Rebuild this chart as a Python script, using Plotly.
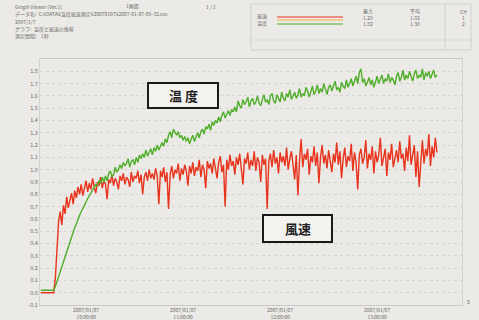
import datetime as dt
import plotly.graph_objects as go

# Sampling: one reading per minute, starting 09:32
START = dt.datetime(2007, 1, 7, 9, 32)

# 温度 (green trace)
temp = [
    0.02, 0.02, 0.02, 0.02, 0.02, 0.02, 0.02, 0.02, 0.02, 0.05,
    0.09, 0.13, 0.18, 0.22, 0.26, 0.30, 0.34, 0.38, 0.42, 0.46,
    0.49, 0.53, 0.56, 0.60, 0.63, 0.66, 0.68, 0.71, 0.74, 0.77,
    0.79, 0.81, 0.84, 0.85, 0.88, 0.87, 0.91, 0.89, 0.94, 0.90,
    0.95, 0.91, 0.97, 0.99, 0.94, 0.96, 1.02, 0.98, 1.00, 1.04,
    1.01, 1.06, 1.03, 1.05, 1.09, 1.02, 1.07, 1.08, 1.04, 1.10,
    1.06, 1.12, 1.09, 1.13, 1.10, 1.16, 1.11, 1.14, 1.17, 1.12,
    1.18, 1.15, 1.20, 1.16, 1.19, 1.22, 1.19, 1.25, 1.22, 1.28,
    1.31, 1.26, 1.33, 1.30, 1.28, 1.31, 1.26, 1.28, 1.24, 1.27,
    1.23, 1.26, 1.21, 1.25, 1.28, 1.23, 1.27, 1.30, 1.26, 1.31,
    1.33, 1.29, 1.35, 1.33, 1.37, 1.32, 1.39, 1.36, 1.40, 1.38,
    1.43, 1.39, 1.44, 1.47, 1.42, 1.45, 1.48, 1.44, 1.49, 1.47,
    1.51, 1.47, 1.56, 1.52, 1.50, 1.57, 1.53, 1.55, 1.59, 1.51,
    1.56, 1.58, 1.53, 1.55, 1.60, 1.54, 1.52, 1.57, 1.61, 1.55,
    1.57, 1.53, 1.60, 1.62, 1.56, 1.54, 1.61, 1.58, 1.55, 1.63,
    1.58, 1.56, 1.62, 1.59, 1.65, 1.57, 1.60, 1.63, 1.58, 1.61,
    1.66, 1.59, 1.62, 1.60, 1.67, 1.64, 1.59, 1.63, 1.68, 1.61,
    1.64, 1.69, 1.62, 1.66, 1.63, 1.70, 1.65, 1.61, 1.67, 1.69,
    1.64, 1.68, 1.72, 1.65, 1.67, 1.63, 1.71, 1.68, 1.66, 1.73,
    1.67, 1.70, 1.74, 1.68, 1.72, 1.76, 1.70, 1.79, 1.82, 1.71,
    1.74, 1.68, 1.71, 1.75, 1.69, 1.73, 1.67, 1.72, 1.76, 1.70,
    1.73, 1.77, 1.70, 1.74, 1.72, 1.78, 1.71, 1.75, 1.73, 1.69,
    1.76, 1.79, 1.72, 1.75, 1.81, 1.73, 1.77, 1.74, 1.80, 1.76,
    1.72, 1.78, 1.81, 1.74, 1.77, 1.75, 1.82, 1.73, 1.79, 1.76,
    1.80, 1.74, 1.78, 1.81, 1.75, 1.77,
]

# 風速 (red trace)
wind = [
    0.00, 0.00, 0.00, 0.00, 0.00, 0.00, 0.00, 0.00, 0.00, 0.12,
    0.34, 0.58, 0.66, 0.55, 0.71, 0.64, 0.78, 0.69, 0.75, 0.81,
    0.72, 0.83, 0.77, 0.86, 0.80, 0.88, 0.79, 0.85, 0.91, 0.82,
    0.89, 0.84, 0.93, 0.86, 0.81, 0.90, 0.87, 0.94, 0.85, 0.91,
    0.88, 0.76, 0.92, 0.89, 0.96, 0.87, 0.93, 0.90, 0.84, 0.95,
    0.91, 0.97, 0.88, 0.94, 0.92, 0.86, 0.98, 0.90, 0.95, 0.93,
    0.99, 0.89, 0.96, 0.80, 0.94, 0.98, 0.91, 1.00, 0.93, 0.97,
    0.92, 1.01, 0.95, 0.72, 0.99, 0.94, 1.02, 0.90, 0.98, 0.68,
    0.96, 1.03, 0.93, 1.00, 0.97, 1.05, 0.91, 1.01, 0.96, 1.04,
    0.99, 0.87, 1.03, 0.97, 1.06, 0.95, 1.02, 0.99, 1.08, 0.94,
    1.04, 1.00, 0.85, 1.07, 1.01, 1.05, 0.97, 1.09, 1.02, 0.93,
    1.06, 1.11, 0.98, 1.04, 0.70, 1.08, 1.00, 1.12, 1.03, 1.07,
    0.96, 1.10, 1.04, 1.13, 1.01, 0.88, 1.09, 1.05, 1.14, 1.00,
    1.08, 1.03, 1.15, 0.99, 1.10, 1.06, 0.90, 1.12, 1.04, 1.09,
    0.68, 1.07, 1.13, 1.02, 1.16, 1.05, 1.10, 0.97, 1.14, 1.06,
    1.11, 1.03, 1.18, 1.00, 1.09, 1.15, 1.04, 0.92, 1.12, 0.79,
    1.07, 1.25, 1.02, 1.13, 1.08, 1.17, 0.96, 1.11, 1.06, 1.19,
    1.03, 1.14, 0.89, 1.10, 1.20, 1.05, 1.12, 1.01, 1.16, 1.08,
    0.98, 1.13, 1.06, 1.22, 1.04, 1.15, 0.93, 1.09, 1.18, 1.02,
    1.11, 1.07, 1.21, 0.99, 1.14, 1.06, 0.84, 1.12, 1.17, 1.05,
    1.10, 1.24, 1.01, 1.13, 1.08, 1.19, 0.97, 1.15, 1.06, 1.12,
    1.26, 1.03, 1.10, 1.17, 0.95, 1.14, 1.08, 1.21, 1.02, 1.11,
    1.16, 1.06, 1.23, 1.09, 1.13, 0.99, 1.18, 1.07, 1.28, 1.04,
    1.12, 1.20, 0.94, 1.15, 0.86, 1.09, 1.24, 1.05, 1.17, 1.11,
    1.29, 1.03, 1.19, 1.10, 1.26, 1.14,
]

times = [START + dt.timedelta(minutes=i) for i in range(len(temp))]

# Axis ticks
y_ticks = [round(-0.1 + 0.1 * i, 1) for i in range(20)]
x_tick_times = [dt.datetime(2007, 1, 7, h, 0) for h in (10, 11, 12, 13)]
x_tick_text = [t.strftime("%Y/%m/%d") + "<br>" + t.strftime("%H:%M:%S") for t in x_tick_times]

# Header contents
header_lines = [
    "Graph Viewer (Ver.1)",
    "データ名:  C:¥DATA¥温度風速測定¥20070107¥2007-01-07-09-32.csv",
    "2007/1/7",
    "グラフ:  温度と風速の推移",
    "測定間隔:    1秒",
]
legend_names = ["風速", "温度"]
stat_cols = [["最大", "1.29", "1.82"], ["平均", "1.02", "1.38"], ["CH", "1", "2"]]

BG = "#eceae6"
RED = "#e8331d"
GREEN = "#4fae2b"
INK = "#6a6a6a"
FONT = "Noto Sans CJK JP"

fig = go.Figure()
fig.add_trace(go.Scatter(x=times, y=wind, mode="lines", name="風速",
                         line=dict(color=RED, width=1.4)))
fig.add_trace(go.Scatter(x=times, y=temp, mode="lines", name="温度",
                         line=dict(color=GREEN, width=1.4)))

W, H = 479, 320
L, R, T, B = 40, 17, 59, 15
pw, ph = W - L - R, H - T - B


def px(x):
    return (x - L) / pw


def py(y):
    return (H - B - y) / ph


shapes = []
annotations = []


def small_text(x, y, text, anchor="left", size=5):
    annotations.append(dict(xref="paper", yref="paper", x=px(x), y=py(y), text=text,
                            showarrow=False, xanchor=anchor, yanchor="middle", borderpad=0,
                            font=dict(size=size, color=INK, family=FONT)))


# header frame on the right
shapes.append(dict(type="rect", xref="paper", yref="paper",
                   x0=px(251), x1=px(471), y0=py(50), y1=py(4),
                   line=dict(color="#cfcfcc", width=1)))
shapes.append(dict(type="line", xref="paper", yref="paper",
                   x0=px(445), x1=px(445), y0=py(50), y1=py(4),
                   line=dict(color="#cfcfcc", width=1)))
shapes.append(dict(type="line", xref="paper", yref="paper",
                   x0=px(251), x1=px(471), y0=py(40), y1=py(40),
                   line=dict(color="#d8d8d5", width=1)))

# header text on the left
for i, line in enumerate(header_lines):
    small_text(14, 7 + 7.3 * i, line)
small_text(125, 6, "1画面")
small_text(205, 6, "1 / 1")

# legend rows: name + colour sample
for i, (name, col) in enumerate(zip(legend_names, [RED, GREEN])):
    yy = 16 + 7 * i
    small_text(256, yy, name)
    shapes.append(dict(type="line", xref="paper", yref="paper",
                       x0=px(277), x1=px(343), y0=py(yy + 1), y1=py(yy + 1),
                       line=dict(color=col, width=1.2)))
shapes.append(dict(type="line", xref="paper", yref="paper",
                   x0=px(277), x1=px(343), y0=py(20), y1=py(20),
                   line=dict(color="#f0b040", width=1)))

# statistics columns
for cx, col in zip([368, 415, 463], stat_cols):
    for j, txt in enumerate(col):
        small_text(cx, 11 + 6.5 * j, txt, anchor="center")

# boxed series labels
for (x0, x1, y0, y1, label) in [(148, 218, 83, 108, "温 度"), (263, 332, 215, 242, "風速")]:
    shapes.append(dict(type="rect", xref="paper", yref="paper",
                       x0=px(x0), x1=px(x1), y0=py(y1), y1=py(y0),
                       fillcolor="#f3f2ef", line=dict(color="#1a1a1a", width=2)))
    annotations.append(dict(xref="paper", yref="paper", x=px((x0 + x1) / 2), y=py((y0 + y1) / 2),
                            text="<b>" + label + "</b>", showarrow=False,
                            xanchor="center", yanchor="middle",
                            font=dict(size=13, color="#1f1f1f", family=FONT)))

small_text(468, 301, "s", anchor="center", size=6)

fig.update_layout(
    width=W, height=H,
    margin=dict(l=L, r=R, t=T, b=B, autoexpand=False),
    paper_bgcolor=BG, plot_bgcolor=BG,
    showlegend=False,
    shapes=shapes, annotations=annotations,
    font=dict(family=FONT, color=INK),
)
fig.update_xaxes(
    type="date", automargin=False,
    range=[dt.datetime(2007, 1, 7, 9, 31, 30), dt.datetime(2007, 1, 7, 13, 52, 30)],
    tickvals=x_tick_times, ticktext=x_tick_text,
    tickfont=dict(size=5, color=INK), ticks="", showgrid=False,
    showline=True, linecolor="#c9c9c6", mirror=True, zeroline=False,
)
fig.update_yaxes(
    automargin=False,
    range=[-0.1, 1.9], tickvals=y_ticks, ticktext=[f"{v:.1f}" for v in y_ticks],
    tickfont=dict(size=5.5, color=INK), ticks="",
    showgrid=True, gridcolor="rgba(0,0,0,0.09)", griddash="dot", gridwidth=1,
    showline=True, linecolor="#d2d2cf", mirror=True, zeroline=False,
)

fig.write_html("out.html")
